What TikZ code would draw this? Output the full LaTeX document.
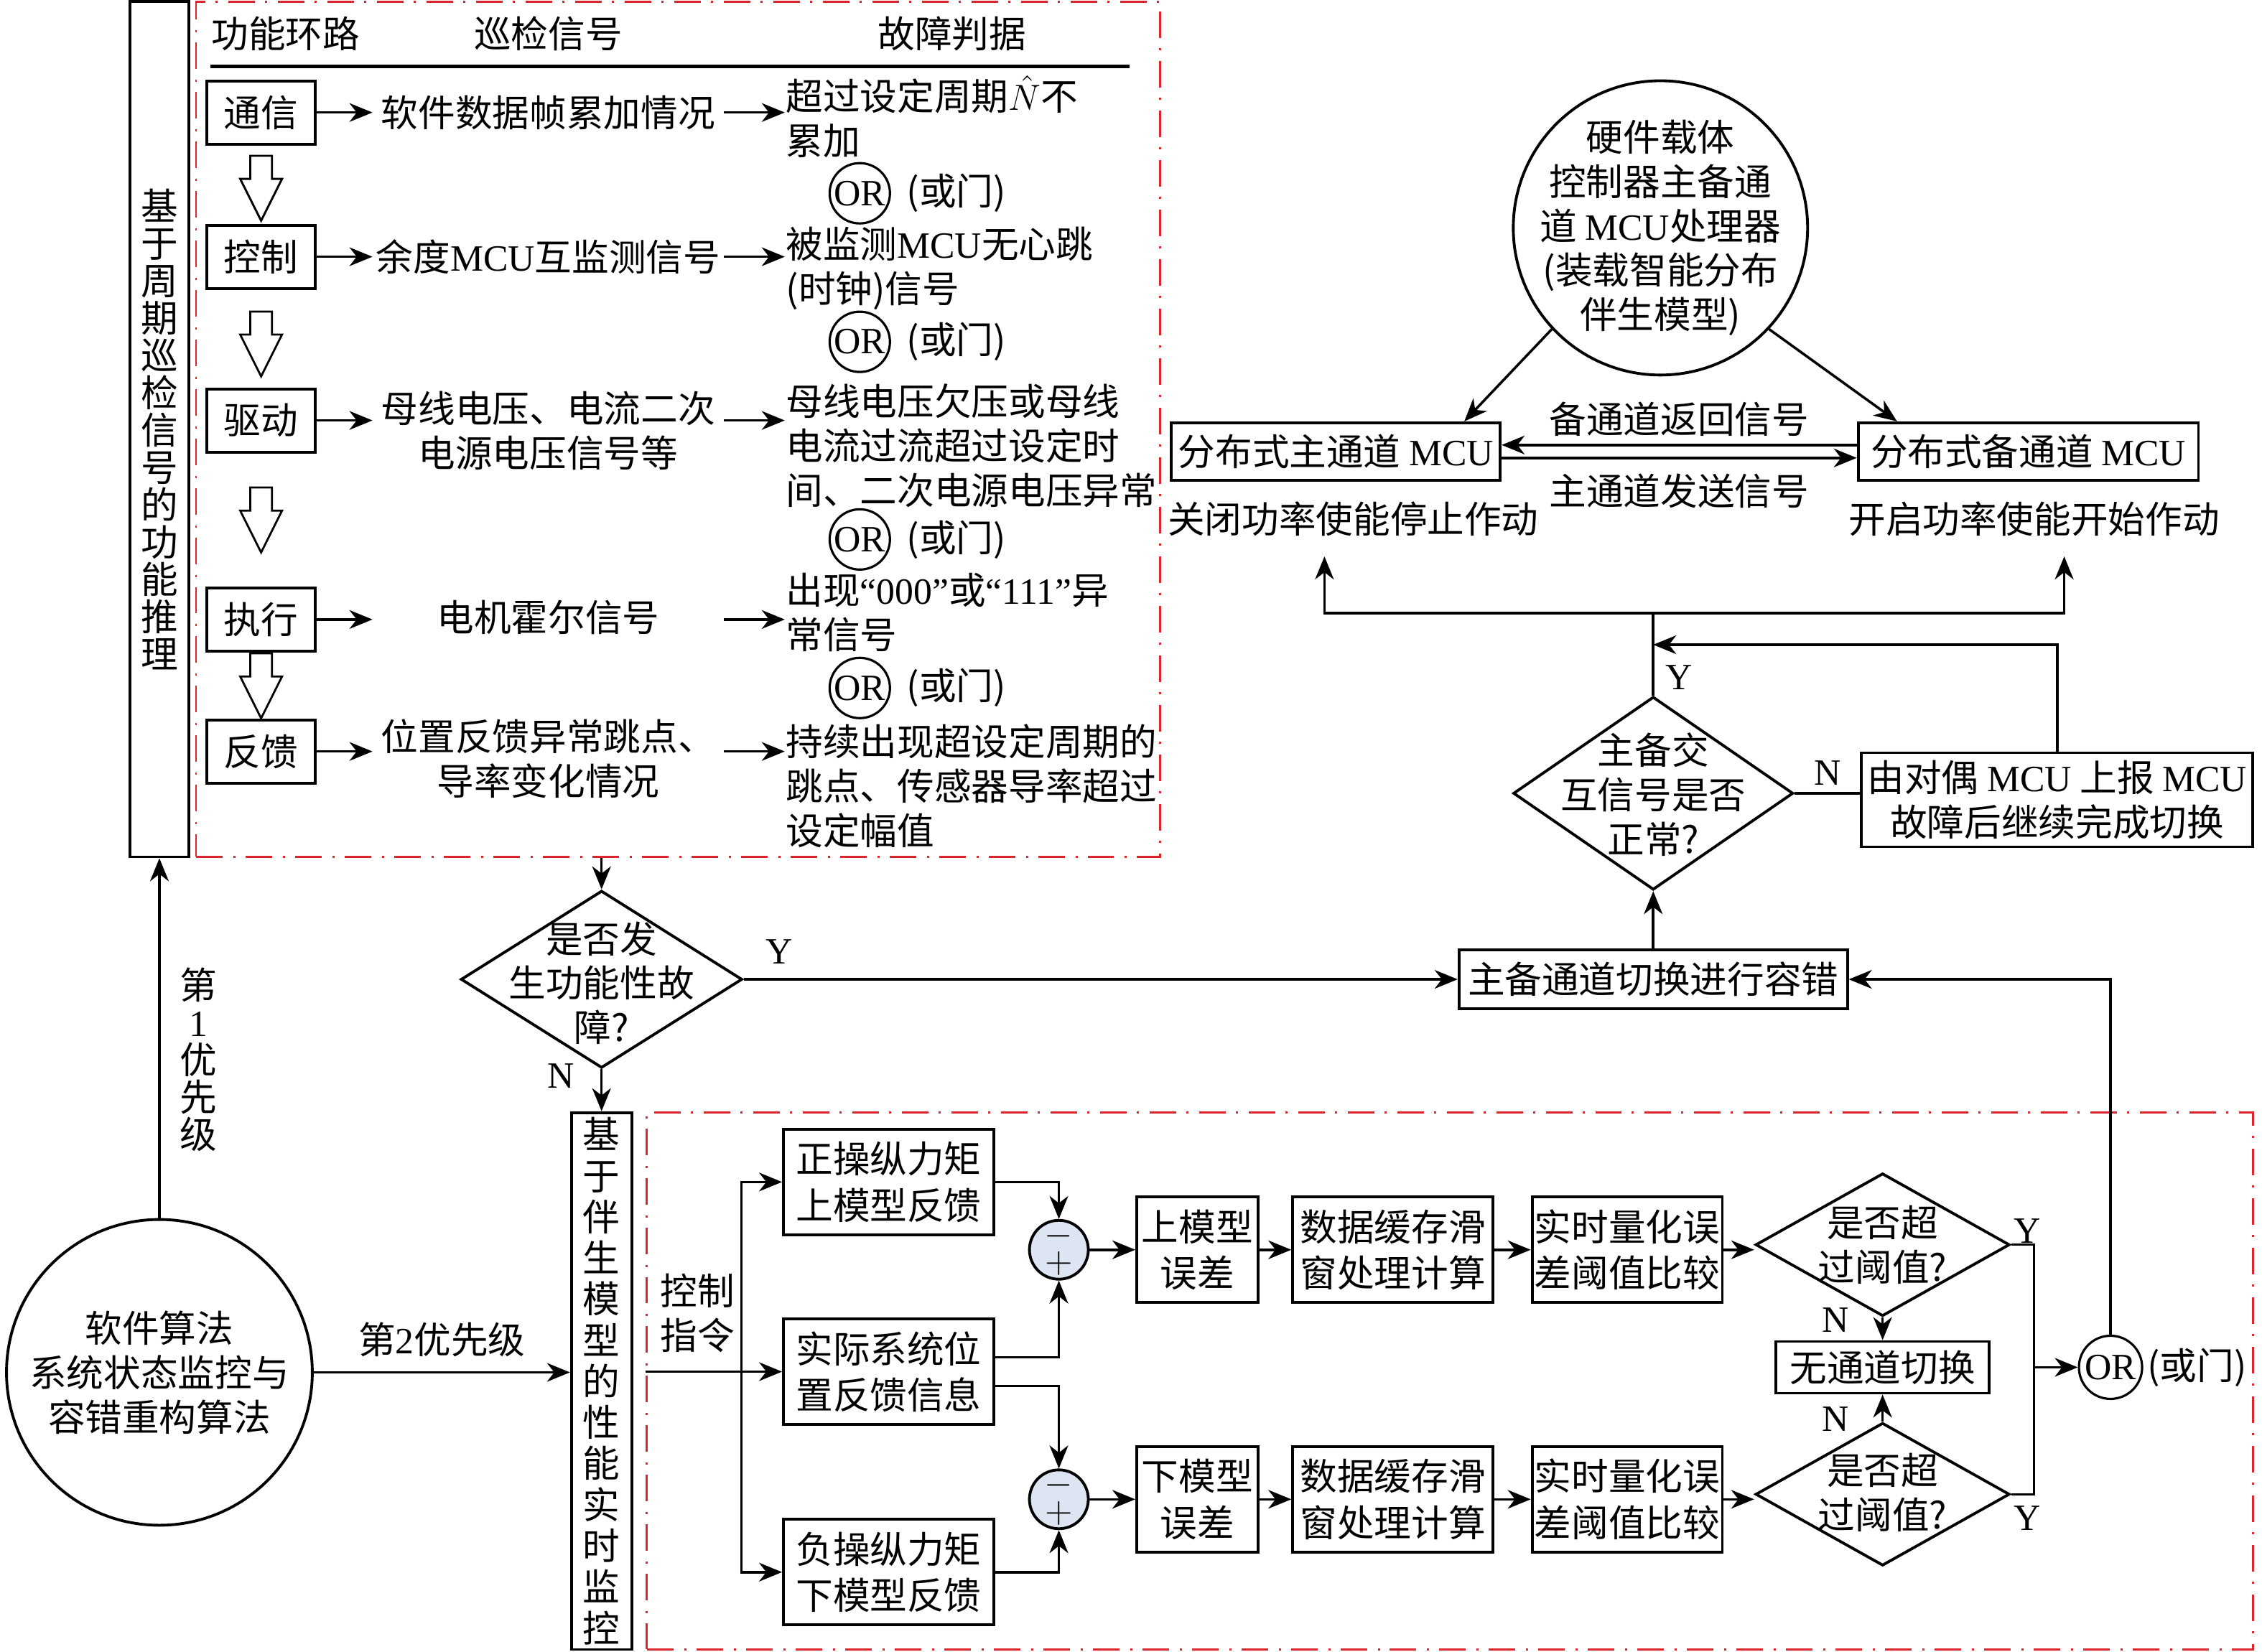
\documentclass[tikz,border=0pt]{standalone}
\usepackage{fontspec}
\setmainfont{Noto Sans CJK SC}
\newfontfamily\lat{Liberation Serif}
\usetikzlibrary{arrows.meta, shapes.geometric}

\definecolor{framered}{RGB}{218, 37, 45}
\definecolor{sumfill}{RGB}{222, 229, 242}

\begin{document}
\begin{tikzpicture}[
    x = 0.0201cm, y = -0.0201cm,
    line width = 1pt,
    > = {Stealth[length = 3.2mm, width = 2.6mm, inset = 1mm]},
    every node/.style = {inner sep = 0pt,
      font = \fontsize{14.7pt}{17.6pt}\selectfont},
    box/.style = {draw, rectangle, line width = 1.1pt,
      align = center},
    loopbox/.style = {box,
      minimum width = 1.51cm,
      minimum height = 0.88cm},
    sigtext/.style = {text width = 4.86cm,
      align = center},
    crittext/.style = {anchor = west,
      align = left},
    orgate/.style = {draw, circle, line width = 0.9pt,
      minimum size = 0.84cm,
      font = \fontsize{14.7pt}{17.6pt}\selectfont\lat},
    vert/.style = {align = center,
      font = \fontsize{14.7pt}{14.8pt}\selectfont},
    tall/.style = {box,
      minimum width = 0.82cm},
    redframe/.style = {draw = framered, line width = 0.8pt,
      rectangle,
      dash pattern = on 0.37cm off 0.15cm on 0.03cm off 0.14cm},
    decision/.style = {draw, diamond, line width = 1.1pt},
    model/.style = {box,
      minimum height = 1.47cm,
      font = \fontsize{14.7pt}{18.3pt}\selectfont},
    sum/.style = {draw, circle, fill = sumfill, line width = 1.1pt,
      minimum size = 0.82cm, align = center,
      font = \fontsize{15pt}{11pt}\selectfont},
    hollow/.pic = {
      \draw [line width = 0.8pt] (-7.5, 0) -- (-7.5, 16) -- (-14.5, 16)
      -- (0, 45) -- (14.5, 16) -- (7.5, 16) -- (7.5, 0) -- cycle;
    },
    ]

    \useasboundingbox (0, 0) rectangle (1568, 1145);

    % periodic check of the function loops
    \node at (110.5, 297.5)
    [tall, vert, minimum height = 11.92cm, name = reason]
    {基\\于\\周\\期\\巡\\检\\信\\号\\的\\功\\能\\推\\理};

    \node at (470, 297.75)
    [redframe, minimum width = 13.43cm, minimum height = 11.91cm,
    name = loopframe] {};

    \node at (198, 23.5) [name = H_loop] {功能环路};
    \node at (380, 23.5) [name = H_sig] {巡检信号};
    \node at (660, 23.5) [name = H_crit] {故障判据};
    \draw [line width = 1.2pt] (146, 46) -- (783, 46);

    \node at (181, 78) [loopbox, name = L_comm] {通信};
    \node at (181, 178) [loopbox, name = L_ctrl] {控制};
    \node at (181, 291.5) [loopbox, name = L_drive] {驱动};
    \node at (181, 429.5) [loopbox, name = L_exec] {执行};
    \node at (181, 521) [loopbox, name = L_fb] {反馈};

    \node at (380, 78) [sigtext, name = S_comm] {软件数据帧累加情况};
    \node at (380, 178) [sigtext, name = S_ctrl] {余度{\lat MCU}互监测信号};
    \node at (380, 298.5) [sigtext, name = S_drive]
    {母线电压、电流二次\\电源电压信号等};
    \node at (380, 428) [sigtext, name = S_exec] {电机霍尔信号};
    \node at (380, 526) [sigtext, name = S_fb]
    {位置反馈异常跳点、\\导率变化情况};

    \node at (544, 81) [crittext, name = C_comm]
    {超过设定周期$\hat{N}$不\\累加};
    \node at (544, 186) [crittext, name = C_ctrl]
    {被监测{\lat MCU}无心跳\\(时钟)信号};
    \node at (544, 309) [crittext, name = C_drive]
    {母线电压欠压或母线\\电流过流超过设定时\\间、二次电源电压异常};
    \node at (544, 424.5) [crittext, name = C_exec]
    {出现{\lat “000”}或{\lat “111”}异\\常信号};
    \node at (544, 545) [crittext, name = C_fb]
    {持续出现超设定周期的\\跳点、传感器导率超过\\设定幅值};

    \node at (596, 134) [orgate, name = O_1] {OR};
    \node at ([xshift = 0.2cm] O_1.east) [anchor = west, name = O_1_t] {(或门)};
    \node at (596, 237) [orgate, name = O_2] {OR};
    \node at ([xshift = 0.2cm] O_2.east) [anchor = west, name = O_2_t] {(或门)};
    \node at (596, 374) [orgate, name = O_3] {OR};
    \node at ([xshift = 0.2cm] O_3.east) [anchor = west, name = O_3_t] {(或门)};
    \node at (596, 477) [orgate, name = O_4] {OR};
    \node at ([xshift = 0.2cm] O_4.east) [anchor = west, name = O_4_t] {(或门)};

    \pic at (181, 108) {hollow};
    \pic at (181, 216) {hollow};
    \pic at (181, 338) {hollow};
    \pic at (181, 453) {hollow};

    \draw [->] (L_comm) -- (S_comm.west |- L_comm);
    \draw [->] (S_comm.east |- L_comm) -- (C_comm.west |- L_comm);
    \draw [->] (L_ctrl) -- (S_ctrl.west |- L_ctrl);
    \draw [->] (S_ctrl.east |- L_ctrl) -- (C_ctrl.west |- L_ctrl);
    \draw [->] (L_drive) -- (S_drive.west |- L_drive);
    \draw [->] (S_drive.east |- L_drive) -- (C_drive.west |- L_drive);
    \draw [->] (L_exec) -- (S_exec.west |- L_exec);
    \draw [->] (S_exec.east |- L_exec) -- (C_exec.west |- L_exec);
    \draw [->] (L_fb) -- (S_fb.west |- L_fb);
    \draw [->] (S_fb.east |- L_fb) -- (C_fb.west |- L_fb);

    % fault decision
    \node at (417, 679)
    [decision, minimum width = 3.92cm, minimum height = 2.47cm,
    name = D_fault] {};
    \node at (417, 681.5) [align = center, name = D_fault_t]
    {是否发\\生功能性故\\障?};

    \draw [->] (loopframe.south -| D_fault) -- (D_fault.north);

    % software algorithm
    \node at (110.5, 951.5)
    [draw, circle, line width = 1.1pt, minimum size = 4.26cm,
    align = center, name = A_soft]
    {软件算法\\系统状态监控与\\容错重构算法};

    \draw [->] (A_soft.north) to node [right = 0.27cm, pos = 0.44, vert]
    {第\\{\lat 1}\\优\\先\\级} (reason.south);

    \node at (417, 957.5)
    [tall, minimum width = 0.84cm, minimum height = 7.48cm,
    font = \fontsize{14.7pt}{16.3pt}\selectfont, name = monitor]
    {基\\于\\伴\\生\\模\\型\\的\\性\\能\\实\\时\\监\\控};

    \draw [->] (A_soft.east) to node [above = 0.2cm]
    {第{\lat 2}优先级} (A_soft.east -| monitor.west);
    \draw [->] (D_fault.south) to node [left = 0.36cm, pos = 0.15]
    {\lat N} (monitor.north);

    % companion model monitoring
    \node at (1005, 957.5)
    [redframe, minimum width = 22.37cm, minimum height = 7.48cm,
    name = modelframe] {};

    \node at (616, 819.5) [model, minimum width = 2.93cm, name = M_pos]
    {正操纵力矩\\上模型反馈};
    \node at (616, 951) [model, minimum width = 2.93cm, name = M_act]
    {实际系统位\\置反馈信息};
    \node at (616, 1090) [model, minimum width = 2.93cm, name = M_neg]
    {负操纵力矩\\下模型反馈};

    \coordinate (branch) at (514, 951);
    \draw [->] (modelframe.west |- M_act) to node
    [above = 0.25cm, pos = 0.38, align = center]
    {控制\\指令} (M_act.west);
    \draw [->] (branch) |- (M_pos.west);
    \draw [->] (branch) |- (M_neg.west);

    \node at (734, 866.5) [sum, name = E_up] {$-$\\$+$};
    \node at (734, 1039.5) [sum, name = E_dn] {$-$\\$+$};

    \draw [->] (M_pos.east) -| (E_up.north);
    \draw [->] ([yshift = 0.2cm] M_act.east) -| (E_up.south);
    \draw [->] ([yshift = -0.2cm] M_act.east) -| (E_dn.north);
    \draw [->] (M_neg.east) -| (E_dn.south);

    \node at (830, 866.5) [model, minimum width = 1.69cm, name = B_errup]
    {上模型\\误差};
    \node at (965.5, 866.5) [model, minimum width = 2.79cm, name = B_bufup]
    {数据缓存滑\\窗处理计算};
    \node at (1128, 866.5) [model, minimum width = 2.65cm, name = B_cmpup]
    {实时量化误\\差阈值比较};
    \node at (1305, 863)
    [decision, minimum width = 3.54cm, minimum height = 1.99cm,
    name = D_up] {};
    \node at (1305, 863) [align = center, name = D_up_t] {是否超\\过阈值?};

    \node at (830, 1039.5) [model, minimum width = 1.69cm, name = B_errdn]
    {下模型\\误差};
    \node at (965.5, 1039.5) [model, minimum width = 2.79cm, name = B_bufdn]
    {数据缓存滑\\窗处理计算};
    \node at (1128, 1039.5) [model, minimum width = 2.65cm, name = B_cmpdn]
    {实时量化误\\差阈值比较};
    \node at (1305, 1036)
    [decision, minimum width = 3.54cm, minimum height = 1.99cm,
    name = D_dn] {};
    \node at (1305, 1035) [align = center, name = D_dn_t] {是否超\\过阈值?};

    \draw [->] (E_up) -- (B_errup);
    \draw [->] (B_errup) -- (B_bufup);
    \draw [->] (B_bufup) -- (B_cmpup);
    \draw [->] (B_cmpup) -- (B_cmpup -| D_up.west);
    \draw [->] (E_dn) -- (B_errdn);
    \draw [->] (B_errdn) -- (B_bufdn);
    \draw [->] (B_bufdn) -- (B_cmpdn);
    \draw [->] (B_cmpdn) -- (B_cmpdn -| D_dn.west);

    \node at (1305, 948)
    [box, minimum width = 2.97cm, minimum height = 0.72cm, name = B_none]
    {无通道切换};
    \draw [->] (D_up.south) to node [left = 0.45cm, pos = 0.1]
    {\lat N} (B_none.north);
    \draw [->] (D_dn.north) to node [left = 0.45cm, pos = 0.1]
    {\lat N} (B_none.south);

    \coordinate (J) at (1410, 948);
    \draw (D_up.east) to node [above, pos = 0.7] {\lat Y}
    (D_up.east -| J) -- (J);
    \draw (D_dn.east) to node [below = 0.15cm, pos = 0.7] {\lat Y}
    (D_dn.east -| J) -- (J);

    \node at (1463, 948) [orgate, minimum size = 0.88cm, name = O_main] {OR};
    \node at ([xshift = 0.04cm] O_main.east) [anchor = west, name = O_main_t]
    {(或门)};
    \draw [->] (J) -- (O_main.west);

    % channel switching
    \node at (1146, 679)
    [box, minimum width = 5.41cm, minimum height = 0.82cm, name = M_switch]
    {主备通道切换进行容错};
    \draw [->] (O_main.north) |- (M_switch.east);
    \draw [->] (D_fault.east) to node [above = 0.2cm, pos = 0.05]
    {\lat Y} (M_switch.west);

    \node at (1146, 550)
    [decision, minimum width = 3.90cm, minimum height = 2.69cm,
    name = D_sw] {};
    \node at (1146, 551) [align = center, name = D_sw_t]
    {主备交\\互信号是否\\正常?};
    \draw [->] (M_switch.north) -- (D_sw.south);

    \node at (1426, 554.5)
    [box, minimum width = 5.45cm, minimum height = 1.31cm, name = B_dual]
    {由对偶 {\lat MCU} 上报 {\lat MCU}\\故障后继续完成切换};
    \draw (D_sw.east) to node [above = 0.1cm] {\lat N} (D_sw.east -| B_dual.west);

    \node at (938, 360) [inner ysep = 0.26cm, name = T_close]
    {关闭功率使能停止作动};
    \node at (1410, 360) [inner ysep = 0.26cm, name = T_open]
    {开启功率使能开始作动};

    \coordinate (merge) at (1146, 447);
    \coordinate (split) at (1146, 425);
    \draw [->] (B_dual.north) |- (merge);
    \draw (D_sw.north) to node [right = 0.15cm, pos = 0.22] {\lat Y} (split);
    \draw [->] (split) -| ([xshift = -0.4cm] T_close.south);
    \draw [->] (split) -| ([xshift = 0.42cm] T_open.south);

    % redundant MCU channels
    \node at (926, 313)
    [box, minimum width = 4.58cm, minimum height = 0.80cm, name = B_main]
    {分布式主通道 {\lat MCU}};
    \node at (1406, 313)
    [box, minimum width = 4.74cm, minimum height = 0.80cm, name = B_back]
    {分布式备通道 {\lat MCU}};

    \draw [->] ([yshift = 0.09cm] B_back.west) to node [above = 0.1cm]
    {备通道返回信号} ([yshift = 0.09cm] B_main.east);
    \draw [->] ([yshift = -0.09cm] B_main.east) to node [below = 0.2cm]
    {主通道发送信号} ([yshift = -0.09cm] B_back.west);

    \node at (1151, 158)
    [draw, circle, line width = 1.1pt, minimum size = 4.10cm, name = H_hw] {};
    \node at (1151, 158) [align = center, name = H_hw_t]
    {硬件载体\\控制器主备通\\道 {\lat MCU}处理器\\(装载智能分布\\伴生模型)};

    \draw [->] (H_hw.223) -- ([xshift = -0.52cm] B_main.north east);
    \draw [->] (H_hw.317) -- ([xshift = 0.56cm] B_back.north west);
  \end{tikzpicture}
\end{document}
